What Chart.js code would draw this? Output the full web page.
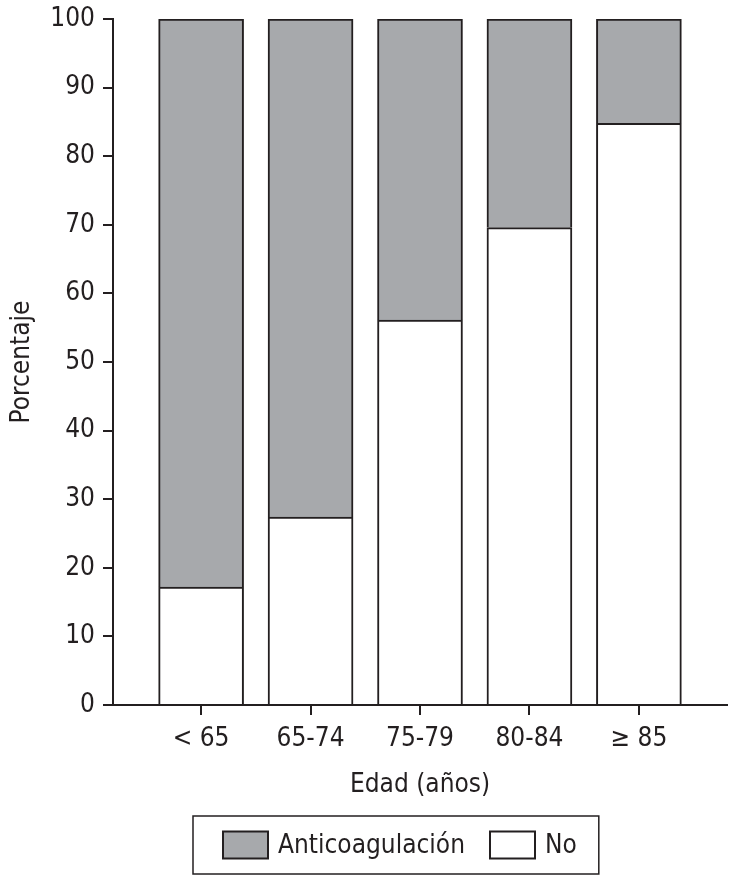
<!DOCTYPE html>
<html>
<head>
<meta charset="utf-8">
<script src="https://cdn.jsdelivr.net/npm/chart.js@4/dist/chart.umd.min.js"></script>
<style>
  html, body { margin: 0; padding: 0; background: #fff; }
  canvas { display: block; }
</style>
</head>
<body>
<canvas id="myChart" width="730" height="875"></canvas>
<script>
// data
const ageGroups = ["< 65", "65-74", "75-79", "80-84", "\u2265 85"];
const noValues = [17.2, 27.4, 56.1, 69.6, 84.8];
const anticoagValues = [82.8, 72.6, 43.9, 30.4, 15.2];
const seriesNames = ["No", "Anticoagulación"];

const ink = "#231f20";
const fontFamily = "'Liberation Sans Narrow', 'DejaVu Sans Condensed', 'Arial Narrow', sans-serif";
Chart.defaults.font.family = fontFamily;
Chart.defaults.color = ink;

// legend with a frame around it, drawn after the chart
const boxLegend = {
  id: "boxLegend",
  afterDraw(chart, args, opts) {
    const ctx = chart.ctx;
    ctx.save();
    ctx.font = opts.fontSize + "px " + fontFamily;
    const items = chart.data.datasets.slice().reverse();
    let x = opts.left + opts.padLeft;
    const parts = items.map((ds) => {
      const w = ctx.measureText(ds.label).width;
      const part = { ds, x, w };
      x += opts.swatchW + opts.textGap + w + opts.itemGap;
      return part;
    });
    const right = x - opts.itemGap + opts.padRight;
    ctx.lineWidth = 1.5;
    ctx.strokeStyle = ink;
    ctx.strokeRect(opts.left, opts.top, right - opts.left, opts.height);
    const midY = opts.top + opts.height / 2;
    parts.forEach((p) => {
      ctx.fillStyle = p.ds.backgroundColor;
      ctx.fillRect(p.x, midY - opts.swatchH / 2, opts.swatchW, opts.swatchH);
      ctx.lineWidth = 2;
      ctx.strokeRect(p.x, midY - opts.swatchH / 2, opts.swatchW, opts.swatchH);
      ctx.fillStyle = ink;
      ctx.textBaseline = "middle";
      ctx.fillText(p.ds.label, p.x + opts.swatchW + opts.textGap, midY + 1);
    });
    ctx.restore();
  }
};

const config = {
  type: "bar",
  data: {
    datasets: [
      {
        label: seriesNames[0],
        data: noValues.map((v, i) => ({ x: i, y: v })),
        backgroundColor: "#ffffff",
        borderColor: ink,
        borderWidth: 2
      },
      {
        label: seriesNames[1],
        data: anticoagValues.map((v, i) => ({ x: i, y: v })),
        backgroundColor: "#a7a9ac",
        borderColor: ink,
        borderWidth: 2
      }
    ]
  },
  options: {
    responsive: false,
    animation: false,
    barThickness: 85,
    layout: { padding: { top: 19, right: 3, left: 2, bottom: 70.5 } },
    plugins: {
      legend: { display: false },
      tooltip: { enabled: false },
      boxLegend: {
        left: 193, top: 816, height: 58, fontSize: 26,
        padLeft: 30, padRight: 22, swatchW: 45, swatchH: 27, textGap: 10, itemGap: 25
      }
    },
    scales: {
      x: {
        type: "linear",
        stacked: true,
        offset: false,
        min: -0.805,
        max: 4.805,
        afterBuildTicks: (axis) => {
          axis.ticks = ageGroups.map((_, i) => ({ value: i }));
        },
        ticks: {
          autoSkip: false,
          maxRotation: 0,
          padding: 8.5,
          font: { size: 26 },
          callback: (v) => ageGroups[v]
        },
        grid: { offset: false, drawOnChartArea: false, tickLength: 10, color: ink, lineWidth: 2 },
        border: { display: true, color: ink, width: 2 },
        title: {
          display: true,
          text: "Edad (años)",
          font: { size: 26 },
          padding: { top: 6, bottom: 4 }
        }
      },
      y: {
        stacked: true,
        min: 0,
        max: 100,
        afterFit: (axis) => {
          axis.width = 111;
          axis.paddingTop = 0;
          axis.paddingBottom = 0;
        },
        ticks: { stepSize: 10, padding: 8, font: { size: 26 } },
        grid: { drawOnChartArea: false, tickLength: 10, color: ink, lineWidth: 2 },
        border: { display: true, color: ink, width: 2 },
        title: {
          display: true,
          text: "Porcentaje",
          font: { size: 26 },
          padding: { top: 5, bottom: 12 }
        }
      }
    }
  },
  plugins: [boxLegend]
};

new Chart(document.getElementById("myChart"), config);
</script>
</body>
</html>
